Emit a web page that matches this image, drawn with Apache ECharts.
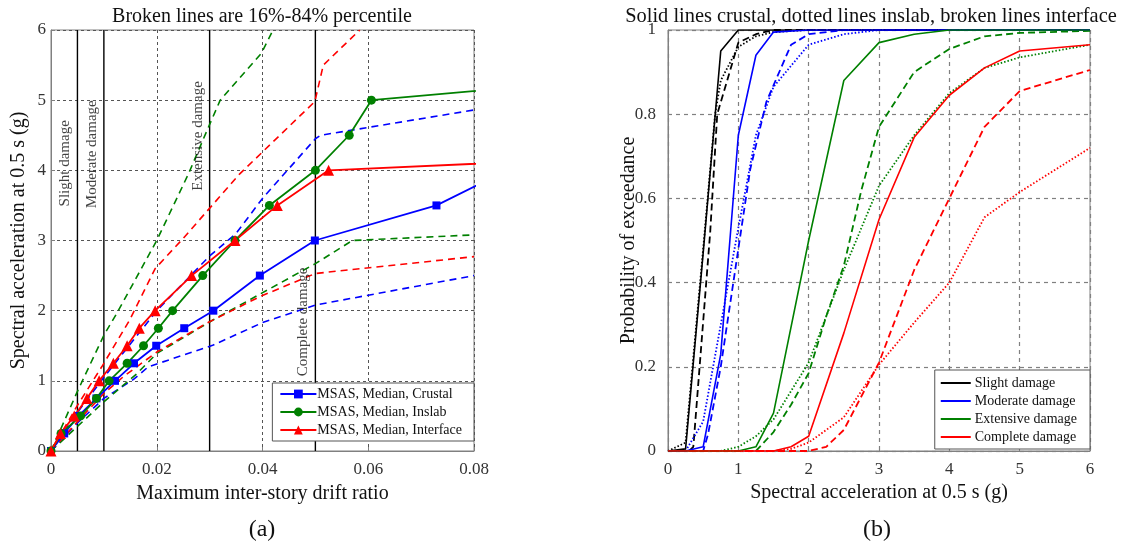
<!DOCTYPE html>
<html><head><meta charset="utf-8">
<script src="https://cdn.jsdelivr.net/npm/echarts@6/dist/echarts.min.js"></script>
<style>html,body{margin:0;padding:0;background:#fff}#c{width:1128px;height:546px}</style>
</head><body><div id="c"></div><script>
// ---------- (a) drift vs Sa ----------
const crustalMedian = [[0,0],[0.0025,0.25],[0.0052,0.5],[0.0086,0.75],[0.0121,1],[0.0157,1.25],[0.0199,1.5],[0.0252,1.75],[0.0307,2],[0.0395,2.5],[0.0499,3],[0.0729,3.5],[0.0863,4.0]];
const inslabMedian = [[0,0],[0.0019,0.25],[0.0056,0.5],[0.0086,0.75],[0.011,1],[0.0144,1.25],[0.0175,1.5],[0.0203,1.75],[0.023,2],[0.0287,2.5],[0.0348,3],[0.0413,3.5],[0.05,4],[0.0564,4.5],[0.0606,5],[0.095,5.23]];
const interfaceMedian = [[0,0],[0.0018,0.25],[0.0044,0.5],[0.0068,0.75],[0.0091,1],[0.0118,1.25],[0.0144,1.5],[0.0167,1.75],[0.0197,2],[0.0266,2.5],[0.0348,3],[0.0428,3.5],[0.0525,4],[0.1,4.16]];
const crustalUpper = [[0,0],[0.005,0.55],[0.01,1.05],[0.02,2.0],[0.03,2.78],[0.035,3.1],[0.04,3.6],[0.05,4.45],[0.051,4.5],[0.08,4.86]];
const crustalLower = [[0,0],[0.005,0.4],[0.01,0.75],[0.0156,1.02],[0.0184,1.2],[0.0307,1.51],[0.04,1.83],[0.05,2.08],[0.08,2.5]];
const inslabUpper = [[0,0],[0.005,0.85],[0.01,1.65],[0.0125,1.97],[0.02,3.0],[0.026,3.95],[0.0294,4.55],[0.032,5.0],[0.0398,5.67],[0.042,6.0]];
const inslabLower = [[0,0],[0.005,0.35],[0.01,0.7],[0.0162,1.1],[0.02,1.39],[0.0307,1.87],[0.05,2.67],[0.057,3.0],[0.08,3.08]];
const interfaceUpper = [[0,0],[0.005,0.65],[0.0096,1.2],[0.0149,1.87],[0.0197,2.6],[0.025,3.03],[0.0357,3.95],[0.0499,4.98],[0.0515,5.5],[0.0584,6.0]];
const interfaceLower = [[0,0],[0.005,0.42],[0.01,0.82],[0.0137,1.06],[0.02,1.41],[0.0294,1.82],[0.0395,2.2],[0.05,2.53],[0.08,2.77]];
const damageLimits = [0.005, 0.01, 0.03, 0.05];
const damageNames = ['Slight damage','Moderate damage','Extensive damage','Complete damage'];
const driftTicks = [0, 0.02, 0.04, 0.06, 0.08];
const saTicksA = [0,1,2,3,4,5,6];

// ---------- (b) fragility curves ----------
const slightCrustal = [[0,0],[0.25,0.005],[0.5,0.47],[0.75,0.95],[1,1],[6,1]];
const slightInslab = [[0,0],[0.25,0.02],[0.5,0.48],[0.67,0.8],[0.75,0.88],[1,0.96],[1.25,0.985],[1.5,0.995],[2,1],[6,1]];
const slightInterface = [[0,0],[0.3,0],[0.36,0.01],[0.6,0.52],[0.7,0.8],[1,0.97],[1.25,0.99],[1.5,1],[6,1]];
const moderateCrustal = [[0,0],[0.25,0],[0.5,0.01],[0.75,0.23],[1,0.75],[1.25,0.94],[1.5,0.995],[2,1],[6,1]];
const moderateInslab = [[0,0],[0.25,0],[0.5,0.07],[0.75,0.3],[1,0.53],[1.25,0.75],[1.5,0.865],[2,0.965],[2.5,0.99],[3,1],[6,1]];
const moderateInterface = [[0,0],[0.5,0],[0.57,0.04],[0.75,0.2],[1,0.48],[1.17,0.67],[1.4,0.83],[1.75,0.965],[2,0.99],[2.5,1],[6,1]];
const extensiveCrustal = [[0,0],[1,0],[1.25,0.01],[1.5,0.09],[2,0.5],[2.5,0.88],[3,0.97],[3.5,0.99],[4,1],[6,1]];
const extensiveInslab = [[0,0],[0.75,0],[1,0.01],[1.25,0.035],[1.5,0.075],[2,0.21],[2.5,0.43],[3,0.63],[3.5,0.75],[4,0.85],[4.5,0.91],[5,0.935],[6,0.965]];
const extensiveInterface = [[0,0],[1.25,0],[1.5,0.045],[1.75,0.11],[2,0.185],[2.25,0.32],[2.5,0.44],[2.75,0.62],[3,0.77],[3.5,0.9],[4,0.955],[4.5,0.985],[5,0.993],[6,0.998]];
const completeCrustal = [[0,0],[1.5,0],[1.75,0.01],[2,0.035],[2.5,0.28],[3,0.55],[3.5,0.745],[4,0.845],[4.5,0.91],[5,0.95],[6,0.965]];
const completeInslab = [[0,0],[1.5,0],[1.75,0.005],[2,0.02],[2.5,0.08],[3,0.205],[3.5,0.305],[4,0.4],[4.5,0.555],[5,0.615],[6,0.72]];
const completeInterface = [[0,0],[2,0],[2.25,0.01],[2.5,0.05],[3,0.21],[3.5,0.43],[4,0.6],[4.5,0.77],[5,0.855],[6,0.905]];

const FONT = "'Liberation Serif','Times New Roman',serif";
const BLUE = '#0000ff', GREEN = '#008000', RED = '#ff0000', BLACK = '#000000';
const FRAME = '#808080';

const chart = echarts.init(document.getElementById('c'), null, {renderer: 'canvas'});

function axisCommon(extra) {
  return Object.assign({
    axisLine: {show: true, onZero: false, lineStyle: {color: FRAME, width: 1}},
    axisTick: {show: true, inside: true, length: 4, lineStyle: {color: FRAME}},
    axisLabel: {color: '#333', fontFamily: FONT, fontSize: 17, margin: 6},
    splitLine: {show: true, lineStyle: {color: '#555', type: [3, 3], width: 1}},
    nameTextStyle: {color: '#111', fontFamily: FONT, fontSize: 20},
    nameLocation: 'middle',
    nameMoveOverlap: false
  }, extra);
}

const dashA = [7, 5];
function medianSeries(name, data, color, symbol, size) {
  return {type: 'line', name, data, xAxisIndex: 0, yAxisIndex: 0, symbol, symbolSize: size,
    showAllSymbol: true, clip: true, z: 5,
    lineStyle: {color, width: 1.8}, itemStyle: {color}};
}
function bandSeries(name, data, color) {
  return {type: 'line', name, data, xAxisIndex: 0, yAxisIndex: 0, symbol: 'none', clip: true, z: 3,
    lineStyle: {color, width: 1.6, type: dashA}, itemStyle: {color}};
}
function fragSeries(name, data, color, style) {
  let type = 'solid';
  if (style === 'dashed') type = [7, 4];
  if (style === 'dotted') type = [1.5, 2];
  return {type: 'line', name, data, xAxisIndex: 1, yAxisIndex: 1, symbol: 'none', clip: true,
    z: style === 'solid' ? 4 : 3,
    lineStyle: {color, width: style === 'solid' ? 1.6 : 1.8, type}, itemStyle: {color}};
}

const limitSeries = damageLimits.map((v, i) => ({
  type: 'line', name: 'limit' + i, data: [[v, saTicksA[0]], [v, saTicksA[saTicksA.length - 1]]],
  xAxisIndex: 0, yAxisIndex: 0, symbol: 'none', z: 2,
  lineStyle: {color: BLACK, width: 1.4}, silent: true
}));

// Label anchors for the limit lines: positioned 12px left of each line (converted to data units)
const pxPerDriftUnit = 423 / 0.08;
const labelShift = 12 / pxPerDriftUnit;
const labelHeights = [4.1, 4.23, 4.49, 1.84];
const limitLabelSeries = {
  type: 'scatter', name: 'limitLabels', xAxisIndex: 0, yAxisIndex: 0, symbolSize: 0, silent: true, z: 6,
  data: damageLimits.map((v, i) => ({value: [v - labelShift, labelHeights[i]],
    label: {show: true, formatter: damageNames[i], rotate: 90, position: 'inside',
      color: '#111', fontFamily: FONT, fontSize: 15}}))
};

const fragLegend = ['Slight damage', 'Moderate damage', 'Extensive damage', 'Complete damage'];

const option = {
  animation: false,
  backgroundColor: '#fff',
  textStyle: {fontFamily: FONT},
  grid: [
    {left: 51, right: 654, top: 30, bottom: 95, show: true, borderColor: FRAME, borderWidth: 1, backgroundColor: 'transparent'},
    {left: 668, right: 38, top: 30, bottom: 95, show: true, borderColor: FRAME, borderWidth: 1, backgroundColor: 'transparent'}
  ],
  xAxis: [
    axisCommon({gridIndex: 0, type: 'value', min: driftTicks[0], max: driftTicks[driftTicks.length - 1], interval: 0.02,
      name: 'Maximum inter-story drift ratio', nameGap: 33,
      axisLabel: {color: '#333', fontFamily: FONT, fontSize: 17, margin: 10}}),
    axisCommon({gridIndex: 1, type: 'value', min: 0, max: 6, interval: 1,
      name: 'Spectral acceleration at 0.5 s (g)', nameGap: 32,
      axisLabel: {color: '#333', fontFamily: FONT, fontSize: 17, margin: 10},
      splitLine: {show: true, lineStyle: {color: '#808080', type: [4, 4], width: 1.2}}})
  ],
  yAxis: [
    axisCommon({gridIndex: 0, type: 'value', min: saTicksA[0], max: saTicksA[saTicksA.length - 1], interval: 1,
      name: 'Spectral acceleration at 0.5 s (g)', nameGap: 22,
      axisLabel: {color: '#333', fontFamily: FONT, fontSize: 17, margin: 5}}),
    axisCommon({gridIndex: 1, type: 'value', min: 0, max: 1, interval: 0.2,
      name: 'Probability of exceedance', nameGap: 29,
      axisLabel: {color: '#333', fontFamily: FONT, fontSize: 17, margin: 12},
      splitLine: {show: true, lineStyle: {color: '#808080', type: [4, 4], width: 1.2}}})
  ],
  legend: [
    {data: ['MSAS, Median, Crustal', 'MSAS, Median, Inslab', 'MSAS, Median, Interface'],
      orient: 'vertical', right: 654, top: 383, padding: [4, 12, 4, 7], itemGap: 4,
      itemWidth: 36, itemHeight: 11, backgroundColor: '#fff', borderColor: '#555', borderWidth: 1,
      borderRadius: 0, selectedMode: false,
      textStyle: {color: '#111', fontFamily: FONT, fontSize: 14, padding: [0, 0, 0, -4]}},
    {data: fragLegend.map(n => ({name: n, icon: 'rect'})),
      orient: 'vertical', right: 38, top: 370, padding: [6, 13, 5, 6], itemGap: 4,
      itemWidth: 30, itemHeight: 2, backgroundColor: '#fff', borderColor: '#555', borderWidth: 1,
      borderRadius: 0, selectedMode: false,
      textStyle: {color: '#111', fontFamily: FONT, fontSize: 14, padding: [0, 0, 0, -1]}}
  ],
  graphic: [
    {type: 'text', x: 262, y: 17, style: {text: 'Broken lines are 16%-84% percentile',
      textAlign: 'center', textVerticalAlign: 'middle', font: '20px ' + FONT, fill: '#111'}},
    {type: 'text', x: 871, y: 17, style: {text: 'Solid lines crustal, dotted lines inslab, broken lines interface',
      textAlign: 'center', textVerticalAlign: 'middle', font: '20.4px ' + FONT, fill: '#111'}},
    {type: 'text', x: 262, y: 530, style: {text: '(a)', textAlign: 'center', textVerticalAlign: 'middle', font: '24px ' + FONT, fill: '#111'}},
    {type: 'text', x: 877, y: 530, style: {text: '(b)', textAlign: 'center', textVerticalAlign: 'middle', font: '24px ' + FONT, fill: '#111'}}
  ],
  series: [
    ...limitSeries,
    limitLabelSeries,
    bandSeries('Crustal 84%', crustalUpper, BLUE),
    bandSeries('Crustal 16%', crustalLower, BLUE),
    bandSeries('Inslab 84%', inslabUpper, GREEN),
    bandSeries('Inslab 16%', inslabLower, GREEN),
    bandSeries('Interface 84%', interfaceUpper, RED),
    bandSeries('Interface 16%', interfaceLower, RED),
    medianSeries('MSAS, Median, Crustal', crustalMedian, BLUE, 'rect', 8),
    medianSeries('MSAS, Median, Inslab', inslabMedian, GREEN, 'circle', 9),
    medianSeries('MSAS, Median, Interface', interfaceMedian, RED, 'triangle', 11),
    fragSeries('Slight damage', slightCrustal, BLACK, 'solid'),
    fragSeries('Slight inslab', slightInslab, BLACK, 'dotted'),
    fragSeries('Slight interface', slightInterface, BLACK, 'dashed'),
    fragSeries('Moderate damage', moderateCrustal, BLUE, 'solid'),
    fragSeries('Moderate inslab', moderateInslab, BLUE, 'dotted'),
    fragSeries('Moderate interface', moderateInterface, BLUE, 'dashed'),
    fragSeries('Extensive damage', extensiveCrustal, GREEN, 'solid'),
    fragSeries('Extensive inslab', extensiveInslab, GREEN, 'dotted'),
    fragSeries('Extensive interface', extensiveInterface, GREEN, 'dashed'),
    fragSeries('Complete damage', completeCrustal, RED, 'solid'),
    fragSeries('Complete inslab', completeInslab, RED, 'dotted'),
    fragSeries('Complete interface', completeInterface, RED, 'dashed')
  ]
};
chart.setOption(option);
</script></body></html>
